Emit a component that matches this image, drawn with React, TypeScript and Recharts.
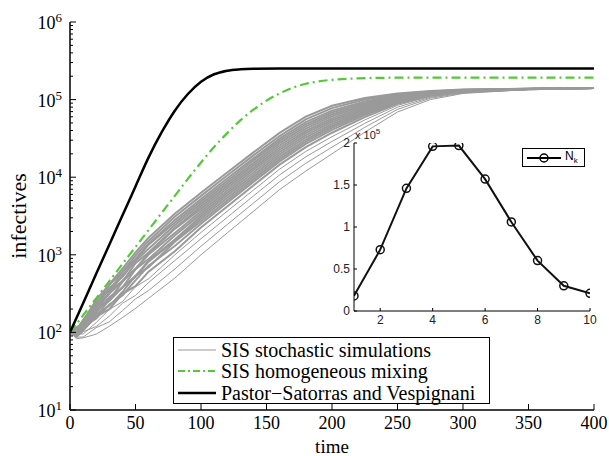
import { CartesianGrid, Legend, Line, LineChart, XAxis, YAxis } from 'recharts';

const serif = '"Liberation Serif", "Times New Roman", serif';
const sans = '"Liberation Sans", Arial, sans-serif';

// main chart: time axis and log y axis
const timeTicks = [0, 50, 100, 150, 200, 250, 300, 350, 400];
const yMajor = [10, 100, 1000, 10000, 100000, 1000000];
const yMinorSteps = [2, 3, 4, 5, 6, 7, 8, 9];

// Pastor-Satorras and Vespignani (black)
const pvTimes = [0, 10, 20, 30, 40, 50, 60, 70, 80, 90, 100, 110, 120, 130, 140, 160, 200, 300, 400];
const pvValues = [100, 238, 568, 1350, 3200, 7600, 18000, 38000, 72000, 118000, 170000, 212000, 236000, 246000, 250000, 252000, 252000, 252000, 252000];

// SIS homogeneous mixing (green dash-dot)
const hmTimes = [0, 20, 40, 60, 80, 100, 110, 120, 130, 140, 150, 160, 170, 180, 190, 200, 220, 240, 260, 300, 400];
const hmValues = [100, 275, 760, 2090, 5750, 15500, 24500, 37000, 54000, 74000, 97000, 120000, 142000, 160000, 172000, 180000, 188000, 191000, 192000, 192000, 192000];

// SIS stochastic simulations (grey), read along the bundle
const simTimes = [0, 5, 10, 20, 30, 40, 50, 60, 80, 100, 120, 140, 160, 180, 200, 225, 250, 275, 300, 350, 400];
const simRuns = [
  [100, 112, 141, 263, 417, 661, 1070, 1660, 3390, 6310, 11500, 20900, 37200, 60300, 83200, 105000, 120000, 129000, 135000, 138000, 141000],
  [100, 105, 145, 234, 407, 603, 977, 1510, 3090, 5750, 10500, 19100, 33900, 55600, 77600, 100000, 117000, 127000, 134000, 138000, 141000],
  [100, 117, 128, 249, 344, 598, 887, 1390, 2800, 5250, 9600, 17500, 31400, 51300, 72100, 94600, 114000, 126000, 133000, 138000, 141000],
  [100, 98, 132, 213, 375, 515, 849, 1350, 2590, 4880, 8930, 16400, 29400, 48100, 68100, 90800, 111000, 124000, 133000, 138000, 141000],
  [100, 109, 138, 209, 318, 546, 832, 1200, 2400, 4530, 8320, 15200, 27500, 45100, 64300, 87300, 109000, 123000, 132000, 137000, 141000],
  [100, 98, 118, 225, 317, 448, 780, 1070, 2220, 4210, 7730, 14200, 25600, 42300, 60800, 83800, 106000, 122000, 131000, 137000, 141000],
  [100, 109, 121, 185, 324, 463, 665, 1040, 2160, 3910, 7190, 13200, 24000, 39600, 57400, 80500, 104000, 120000, 131000, 137000, 141000],
  [100, 91, 127, 199, 262, 448, 652, 1010, 1910, 3630, 6700, 12400, 22400, 37200, 54200, 77300, 102000, 119000, 130000, 137000, 141000],
  [100, 101, 108, 178, 286, 377, 653, 881, 1770, 3370, 6240, 11500, 21000, 34800, 51200, 74100, 99500, 118000, 130000, 137000, 141000],
  [100, 96, 119, 196, 254, 381, 532, 839, 1570, 3130, 5810, 10700, 19600, 32700, 48300, 71300, 97500, 117000, 129000, 137000, 141000],
  [100, 106, 109, 160, 265, 376, 522, 817, 1520, 2910, 5400, 10000, 18300, 30600, 45700, 68400, 95300, 116000, 129000, 137000, 141000],
  [100, 89, 109, 173, 220, 331, 536, 693, 1470, 2700, 5020, 9330, 17100, 28700, 43200, 65800, 93300, 115000, 128000, 136000, 141000],
  [100, 99, 117, 151, 229, 299, 468, 724, 1300, 2510, 4680, 8710, 16000, 26900, 40700, 63100, 91200, 114000, 127000, 136000, 141000],
  [100, 89, 106, 160, 199, 314, 395, 607, 1110, 2250, 4200, 7830, 14500, 24400, 37400, 59400, 88300, 112000, 126000, 136000, 141000],
  [100, 97, 95, 134, 197, 249, 388, 491, 998, 1940, 3640, 6820, 12700, 21500, 33300, 54700, 84300, 110000, 125000, 136000, 141000],
  [100, 86, 102, 119, 162, 237, 300, 440, 843, 1610, 3040, 5730, 10700, 18300, 28900, 49400, 79800, 107000, 124000, 136000, 141000],
  [100, 87, 87, 115, 137, 190, 270, 346, 655, 1290, 2450, 4630, 8750, 15100, 24400, 43900, 74800, 104000, 122000, 135000, 141000],
  [100, 83, 85, 95, 120, 155, 204, 275, 501, 1000, 1910, 3630, 6920, 12000, 20000, 38000, 69200, 100000, 120000, 135000, 141000],
];
// the last few runs are the stragglers below the dense band
const denseRuns = 14;

const legendLabels = ['SIS stochastic simulations', 'SIS homogeneous mixing', 'Pastor\u2212Satorras and Vespignani'];

// inset: N_k against k
const kValues = [1, 2, 3, 4, 5, 6, 7, 8, 9, 10];
const nkValues = [18000, 73000, 146000, 196000, 197000, 157000, 106000, 60000, 30000, 21000];
const kTicks = [2, 4, 6, 8, 10];
const nkTicks = [0, 50000, 100000, 150000, 200000];

const yTicksAll = yMajor.flatMap((m, i) =>
  i < yMajor.length - 1 ? [m, ...yMinorSteps.map((s) => m * s)] : [m]
);

const toPoints = (ts: number[], vs: number[]) => ts.map((t, i) => ({ t, v: vs[i] }));
const pvData = toPoints(pvTimes, pvValues);
const hmData = toPoints(hmTimes, hmValues);
const simData = simRuns.map((run) => toPoints(simTimes, run));
const insetData = kValues.map((k, i) => ({ k, n: nkValues[i] }));

const GREEN = '#55c83a';
const GREY = '#9a9a9a';

function LeftLogTick({ x, y, payload }: any) {
  const major = yMajor.includes(payload.value);
  return (
    <g>
      <line x1={x} x2={x + (major ? 6 : 3)} y1={y} y2={y} stroke="#000" />
      {major && (
        <text x={x - 8} y={y + 7} textAnchor="end" fontFamily={serif} fontSize={18} fill="#000">
          10
          <tspan dy={-7} fontSize={13}>
            {Math.round(Math.log10(payload.value))}
          </tspan>
        </text>
      )}
    </g>
  );
}

function RightLogTick({ x, y, payload }: any) {
  const major = yMajor.includes(payload.value);
  return <line x1={x} x2={x - (major ? 6 : 3)} y1={y} y2={y} stroke="#000" />;
}

function BottomTick({ x, y, payload }: any) {
  return (
    <g>
      <line x1={x} x2={x} y1={y} y2={y - 6} stroke="#000" />
      <text x={x} y={y + 19} textAnchor="middle" fontFamily={serif} fontSize={18} fill="#000">
        {payload.value}
      </text>
    </g>
  );
}

function TopTick({ x, y }: any) {
  return <line x1={x} x2={x} y1={y} y2={y + 6} stroke="#000" />;
}

function InsetLeftTick({ x, y, payload }: any) {
  return (
    <g>
      <line x1={x} x2={x + 3} y1={y} y2={y} stroke="#000" />
      <text x={x - 4} y={y + 4} textAnchor="end" fontFamily={sans} fontSize={12} fill="#222">
        {payload.value / 100000}
      </text>
    </g>
  );
}

function InsetRightTick({ x, y }: any) {
  return <line x1={x} x2={x - 3} y1={y} y2={y} stroke="#000" />;
}

function InsetBottomTick({ x, y, payload }: any) {
  return (
    <g>
      <line x1={x} x2={x} y1={y} y2={y - 3} stroke="#000" />
      <text x={x} y={y + 13} textAnchor="middle" fontFamily={sans} fontSize={12} fill="#222">
        {payload.value}
      </text>
    </g>
  );
}

function InsetTopTick({ x, y }: any) {
  return <line x1={x} x2={x} y1={y} y2={y + 3} stroke="#000" />;
}

function MainLegend() {
  const samples = [
    { stroke: GREY, width: 1, dash: undefined },
    { stroke: GREEN, width: 2, dash: '7 3 2 3' },
    { stroke: '#000', width: 2.5, dash: undefined },
  ];
  return (
    <div
      style={{
        border: '1px solid #000',
        background: '#fff',
        width: 317,
        height: 67,
        boxSizing: 'border-box',
        paddingTop: 1,
      }}
    >
      {legendLabels.map((label, i) => (
        <div key={label} style={{ display: 'flex', alignItems: 'center', height: 21.5 }}>
          <svg width={47} height={10} style={{ flex: 'none' }}>
            <line
              x1={4}
              x2={42}
              y1={5}
              y2={5}
              stroke={samples[i].stroke}
              strokeWidth={samples[i].width}
              strokeDasharray={samples[i].dash}
            />
          </svg>
          <span style={{ fontFamily: serif, fontSize: 20, color: '#000', lineHeight: '20px', whiteSpace: 'nowrap' }}>
            {label}
          </span>
        </div>
      ))}
    </div>
  );
}

function InsetLegend() {
  return (
    <div
      style={{
        border: '1px solid #000',
        background: '#fff',
        width: 63,
        height: 19,
        boxSizing: 'border-box',
        display: 'flex',
        alignItems: 'center',
      }}
    >
      <svg width={42} height={12} style={{ flex: 'none' }}>
        <line x1={4} x2={38} y1={6} y2={6} stroke="#000" strokeWidth={2} />
        <circle cx={21} cy={6} r={4} fill="none" stroke="#000" strokeWidth={1.5} />
      </svg>
      <span style={{ fontFamily: sans, fontSize: 12, color: '#000' }}>
        N<sub style={{ fontSize: 8 }}>k</sub>
      </span>
    </div>
  );
}

export default function App() {
  return (
    <div style={{ position: 'absolute', left: 0, top: 0, width: 609, height: 456, background: '#fff' }}>
      <LineChart width={609} height={456} margin={{ top: 22, right: 15, bottom: 0, left: 0 }}>
        <XAxis
          xAxisId="bottom"
          dataKey="t"
          type="number"
          domain={[0, 400]}
          ticks={timeTicks}
          interval={0}
          height={46}
          tickSize={0}
          tickMargin={0}
          tickLine={false}
          tick={<BottomTick />}
          axisLine={{ stroke: '#000', strokeWidth: 1.5 }}
          allowDataOverflow
          label={{ value: 'time', position: 'insideBottom', offset: 3, fontFamily: serif, fontSize: 19, fill: '#000' }}
        />
        <XAxis
          xAxisId="top"
          orientation="top"
          dataKey="t"
          type="number"
          domain={[0, 400]}
          ticks={timeTicks}
          interval={0}
          height={0}
          tickSize={0}
          tickMargin={0}
          tickLine={false}
          tick={<TopTick />}
          axisLine={{ stroke: '#000', strokeWidth: 1.5 }}
          allowDataOverflow
        />
        <YAxis
          yAxisId="left"
          dataKey="v"
          type="number"
          scale="log"
          domain={[10, 1000000]}
          ticks={yTicksAll}
          interval={0}
          width={70}
          tickSize={0}
          tickMargin={0}
          tickLine={false}
          tick={<LeftLogTick />}
          axisLine={{ stroke: '#000', strokeWidth: 1.5 }}
          allowDataOverflow
          label={(props: any) => {
            const vb = props.viewBox;
            const cx = vb.x + 18;
            const cy = vb.y + vb.height / 2;
            return (
              <text
                x={cx}
                y={cy}
                transform={`rotate(-90 ${cx} ${cy})`}
                textAnchor="middle"
                dominantBaseline="central"
                fontFamily={serif}
                fontSize={22}
                fill="#000"
              >
                infectives
              </text>
            );
          }}
        />
        <YAxis
          yAxisId="right"
          orientation="right"
          dataKey="v"
          type="number"
          scale="log"
          domain={[10, 1000000]}
          ticks={yTicksAll}
          interval={0}
          width={0}
          tickSize={0}
          tickMargin={0}
          tickLine={false}
          tick={<RightLogTick />}
          axisLine={{ stroke: '#000', strokeWidth: 1.5 }}
          allowDataOverflow
        />
        {simData.map((d, i) => (
          <Line
            key={`sim-${i}`}
            data={d}
            xAxisId="bottom"
            yAxisId="left"
            dataKey="v"
            type="linear"
            stroke={GREY}
            strokeWidth={i < denseRuns ? 2 : 1}
            dot={false}
            isAnimationActive={false}
          />
        ))}
        <Line
          data={hmData}
          xAxisId="bottom"
          yAxisId="left"
          dataKey="v"
          type="monotone"
          stroke={GREEN}
          strokeWidth={2.2}
          strokeDasharray="9 4 2 4"
          dot={false}
          isAnimationActive={false}
        />
        <Line
          data={pvData}
          xAxisId="bottom"
          yAxisId="left"
          dataKey="v"
          type="monotone"
          stroke="#000"
          strokeWidth={2.5}
          dot={false}
          isAnimationActive={false}
        />
        <Legend
          layout="vertical"
          align="center"
          verticalAlign="middle"
          content={<MainLegend />}
          wrapperStyle={{ left: 173, top: 337, width: 317, height: 67 }}
        />
      </LineChart>

      <div style={{ position: 'absolute', left: 320, top: 125 }}>
        <LineChart width={280} height={205} data={insetData} margin={{ top: 18, right: 10, bottom: 0, left: 4 }}>
          <CartesianGrid horizontal={false} vertical={false} fill="#fff" xAxisId="b" yAxisId="l" />
          <XAxis
            xAxisId="b"
            dataKey="k"
            type="number"
            domain={[1, 10]}
            ticks={kTicks}
            interval={0}
            height={19}
            tickSize={0}
            tickMargin={0}
            tickLine={false}
            tick={<InsetBottomTick />}
            axisLine={{ stroke: '#000' }}
            allowDataOverflow
          />
          <XAxis
            xAxisId="t"
            orientation="top"
            dataKey="k"
            type="number"
            domain={[1, 10]}
            ticks={kTicks}
            interval={0}
            height={0}
            tickSize={0}
            tickMargin={0}
            tickLine={false}
            tick={<InsetTopTick />}
            axisLine={{ stroke: '#000' }}
            allowDataOverflow
          />
          <YAxis
            yAxisId="l"
            type="number"
            domain={[0, 200000]}
            ticks={nkTicks}
            interval={0}
            width={30}
            tickSize={0}
            tickMargin={0}
            tickLine={false}
            tick={<InsetLeftTick />}
            axisLine={{ stroke: '#000' }}
            allowDataOverflow
            label={(props: any) => {
              const vb = props.viewBox;
              return (
                <text x={vb.x + vb.width + 1} y={vb.y - 4} fontFamily={sans} fontSize={11} fill="#222">
                  x 10
                  <tspan dy={-5} fontSize={8}>
                    5
                  </tspan>
                </text>
              );
            }}
          />
          <YAxis
            yAxisId="r"
            orientation="right"
            type="number"
            domain={[0, 200000]}
            ticks={nkTicks}
            interval={0}
            width={0}
            tickSize={0}
            tickMargin={0}
            tickLine={false}
            tick={<InsetRightTick />}
            axisLine={{ stroke: '#000' }}
            allowDataOverflow
          />
          <Line
            xAxisId="b"
            yAxisId="l"
            dataKey="n"
            type="linear"
            stroke="#111"
            strokeWidth={2}
            dot={{ r: 4, fill: 'none', stroke: '#111', strokeWidth: 1.5 }}
            isAnimationActive={false}
          />
          <Legend
            layout="vertical"
            align="center"
            verticalAlign="middle"
            content={<InsetLegend />}
            wrapperStyle={{ left: 202, top: 23, width: 63, height: 19 }}
          />
        </LineChart>
      </div>
    </div>
  );
}
